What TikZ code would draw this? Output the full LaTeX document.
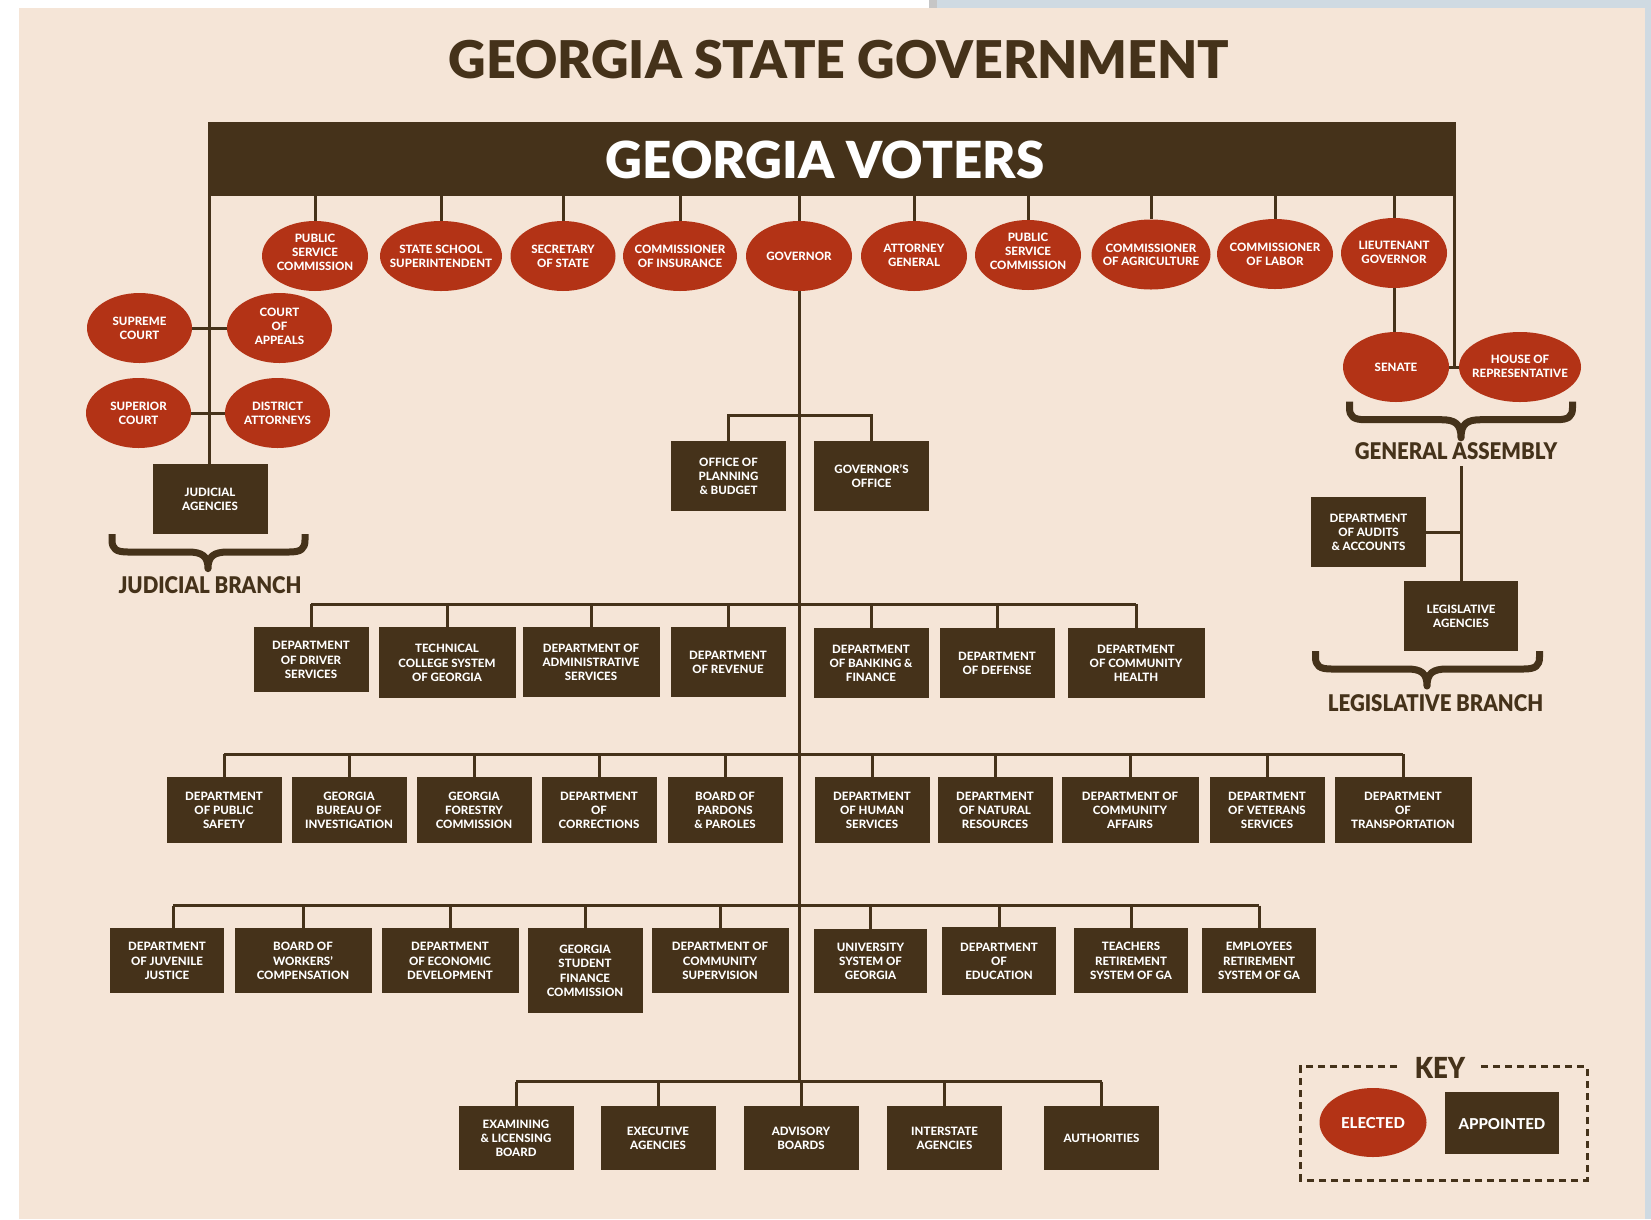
\documentclass[tikz,border=0pt]{standalone}
\usepackage{fontspec}
\setmainfont{Lato}
\usetikzlibrary{shapes.geometric}
\definecolor{gbg}{HTML}{F5E5D7}
\definecolor{gbrown}{HTML}{45321A}
\definecolor{gred}{HTML}{B33316}
\definecolor{gblue}{HTML}{CFDAE2}
\definecolor{ggray}{HTML}{C6C6C6}
\IfFontExistsTF{Lato Black}{%
  \newfontfamily\heavyfont{Lato Black}%
  \newfontfamily\headfont[FakeStretch=0.89]{Lato Black}}{%
  \newfontfamily\heavyfont[FakeBold=1.5]{Lato Bold}%
  \newfontfamily\headfont[FakeBold=1.2,FakeStretch=0.92]{Lato Bold}}
\IfFontExistsTF{Lato Heavy}{\newfontfamily\boxfam{Lato Heavy}}{\newfontfamily\boxfam[FakeBold=0.5]{Lato Bold}}
\newcommand{\boxfont}{\boxfam\fontsize{11.5}{14.2}\selectfont}
\newcommand{\elfont}{\boxfam\fontsize{11.5}{13.8}\selectfont}
\newcommand{\zw}[2][0pt]{\makebox[0pt]{\raisebox{\dimexpr-0.41em+#1\relax}[0pt][0pt]{\begin{tabular}{@{}c@{}}#2\end{tabular}}}}
\newcommand{\gbrace}[5]{%
\draw[bracesty] (#1,#3) -- (#1,#3+6) .. controls (#1,#3+15) and (#1+4,#3+18) .. (#1+16,#3+18)
 -- (#5-20,#3+18) .. controls (#5-6,#3+18) and (#5,#3+22) .. (#5,#4)
 .. controls (#5,#3+22) and (#5+6,#3+18) .. (#5+20,#3+18)
 -- (#2-16,#3+18) .. controls (#2-4,#3+18) and (#2,#3+15) .. (#2,#3+6) -- (#2,#3);}
\tikzset{
 conn/.style={draw=gbrown, line width=3pt},
 bracesty/.style={draw=gbrown, line width=7pt, line join=round},
 appt/.style 2 args={rectangle, fill=gbrown, text=white, font=\boxfont,
   minimum width=#1, minimum height=#2, inner sep=0pt},
 elec/.style 2 args={ellipse, fill=gred, text=white, font=\elfont,
   minimum width=#1, minimum height=#2, inner sep=0pt},
 heading/.style={text=gbrown, font=\headfont\fontsize{23}{26}\selectfont, anchor=base, inner sep=0pt},
}
\begin{document}
\begin{tikzpicture}[x=1pt,y=-1pt]
\useasboundingbox (0,0) rectangle (1651,1219);
% background
\fill[white] (0,0) rectangle (1651,1219);
\fill[gblue] (937,0) rectangle (1651,8);
\fill[ggray] (929,0) rectangle (937,8);
\fill[gblue] (1645,0) rectangle (1651,1219);
\fill[gbg] (19,8) rectangle (1645,1219);

% title
\node[text=gbrown, font=\heavyfont\fontsize{52}{60}\selectfont, anchor=base, inner sep=0pt] (title) at (839,78.7) {GEORGIA STATE GOVERNMENT};

% voters bar
\node[rectangle, fill=gbrown, minimum width=1248pt, minimum height=74pt, inner sep=0pt] (voters) at (832,159) {};
\node[text=white, font=\heavyfont\fontsize{51}{60}\selectfont, anchor=base, inner sep=0pt] (voterst) at (825,178.3) {GEORGIA VOTERS};

% elected top row
\node[elec={106pt}{70pt}] (psca) at (315,256) {\zw[4pt]{PUBLIC\\SERVICE\\COMMISSION}};
\node[elec={122pt}{70pt}] (sss) at (441,256) {\zw{STATE SCHOOL\\SUPERINTENDENT}};
\node[elec={105pt}{70pt}] (sos) at (563,256) {\zw{SECRETARY\\OF STATE}};
\node[elec={114pt}{70pt}] (coi) at (680,256) {\zw{COMMISSIONER\\OF INSURANCE}};
\node[elec={106pt}{70pt}] (gov) at (799,256) {\zw{GOVERNOR}};
\node[elec={106pt}{70pt}] (ag) at (914,256) {\zw[1pt]{ATTORNEY\\GENERAL}};
\node[elec={106pt}{70pt}] (pscb) at (1028,255) {\zw[4pt]{PUBLIC\\SERVICE\\COMMISSION}};
\node[elec={119pt}{70pt}] (coag) at (1151,254.5) {\zw{COMMISSIONER\\OF AGRICULTURE}};
\node[elec={116pt}{70pt}] (col) at (1275,254) {\zw{COMMISSIONER\\OF LABOR}};
\node[elec={106pt}{70pt}] (ltg) at (1394,253) {\zw[1pt]{LIEUTENANT\\GOVERNOR}};
\foreach \n in {psca,sss,sos,coi,gov,ag,pscb,coag,col,ltg}
  \draw[conn] (voters.south -| \n.north) -- (\n.north);

% judicial branch
\node[elec={105pt}{70pt}] (sup) at (139.5,328) {\zw{SUPREME\\COURT}};
\node[elec={105pt}{70pt}] (coa) at (279.5,328) {\zw[2pt]{COURT\\OF\\APPEALS}};
\node[elec={105pt}{70pt}] (supc) at (138.5,413) {\zw{SUPERIOR\\COURT}};
\node[elec={105pt}{70pt}] (da) at (277.5,413) {\zw{DISTRICT\\ATTORNEYS}};
\node[appt={115pt}{70pt}] (jag) at (210,499) {\zw{JUDICIAL\\AGENCIES}};
\draw[conn] ([xshift=1.5pt]voters.south west) -- ([xshift=1.5pt]voters.south west |- jag.north);
\draw[conn] (sup.east) -- (coa.west);
\draw[conn] (supc.east) -- (da.west);
\gbrace{112}{305}{534}{568.6}{208}
\node[heading] (jb) at (210,593.5) {JUDICIAL BRANCH};

% legislative branch
\node[elec={106pt}{70pt}] (sen) at (1396,367) {\zw{SENATE}};
\node[elec={122pt}{70pt}] (house) at (1520,367) {\zw[1pt]{HOUSE OF\\REPRESENTATIVE}};
\draw[conn] (ltg.south) -- (ltg.south |- sen.north);
\draw[conn] ([xshift=-1.5pt]voters.south east) -- ([xshift=-1.5pt]voters.south east |- sen.east);
\draw[conn] (sen.east) -- (house.west);
\gbrace{1349.5}{1572.5}{401.7}{437.8}{1461}
\node[heading] (ga) at (1456,459.5) {GENERAL ASSEMBLY};
\coordinate (gatop) at (1461,466);
\node[appt={115pt}{70pt}] (daa) at (1368.5,532) {\zw{DEPARTMENT\\OF AUDITS\\\& ACCOUNTS}};
\node[appt={114pt}{70pt}] (lag) at (1461,616) {\zw{LEGISLATIVE\\AGENCIES}};
\draw[conn] (gatop) -- (lag.north);
\draw[conn] (daa.east) -- (daa.east -| lag.north);
\gbrace{1315.5}{1539.5}{651}{686}{1427}
\node[heading] (lb) at (1435.5,711) {LEGISLATIVE BRANCH};

% governor's line and offices
\coordinate (r0) at (0,415);
\coordinate (r1) at (0,604);
\coordinate (r2) at (0,754);
\coordinate (r3) at (0,905.7);
\coordinate (r4) at (0,1081.5);
\draw[conn] (gov.south) -- (gov.south |- r4);
\node[appt={115pt}{70pt}] (opb) at (728.5,476) {\zw{OFFICE OF\\PLANNING\\\& BUDGET}};
\node[appt={115pt}{70pt}] (go) at (871.5,476) {\zw{GOVERNOR’S\\OFFICE}};
\draw[conn] (opb.north) -- (opb.north |- r0) -- (go.north |- r0) -- (go.north);

% row 1
\node[appt={115pt}{65pt}] (dds) at (311,659.5) {\zw{DEPARTMENT\\OF DRIVER\\SERVICES}};
\node[appt={137pt}{71pt}] (tcsg) at (447,662.5) {\zw{TECHNICAL\\COLLEGE SYSTEM\\OF GEORGIA}};
\node[appt={137pt}{70pt}] (das) at (591,662) {\zw{DEPARTMENT OF\\ADMINISTRATIVE\\SERVICES}};
\node[appt={115pt}{70pt}] (dor) at (728,662) {\zw{DEPARTMENT\\OF REVENUE}};
\node[appt={115pt}{70pt}] (dbf) at (871,663) {\zw{DEPARTMENT\\OF BANKING \&\\FINANCE}};
\node[appt={115pt}{70pt}] (dd) at (997,663) {\zw{DEPARTMENT\\OF DEFENSE}};
\node[appt={137pt}{70pt}] (dch) at (1136,663) {\zw{DEPARTMENT\\OF COMMUNITY\\HEALTH}};
\draw[conn] (dds.north |- r1) -- (dch.north |- r1);
\foreach \n in {dds,tcsg,das,dor,dbf,dd,dch}
  \draw[conn] (\n.north |- r1) -- (\n.north);

% row 2
\node[appt={115pt}{66pt}] (dps) at (224,810) {\zw{DEPARTMENT\\OF PUBLIC\\SAFETY}};
\node[appt={115pt}{66pt}] (gbi) at (349,810) {\zw{GEORGIA\\BUREAU OF\\INVESTIGATION}};
\node[appt={115pt}{66pt}] (gfc) at (474,810) {\zw{GEORGIA\\FORESTRY\\COMMISSION}};
\node[appt={115pt}{66pt}] (doc) at (599,810) {\zw{DEPARTMENT\\OF\\CORRECTIONS}};
\node[appt={115pt}{66pt}] (bpp) at (725,810) {\zw{BOARD OF\\PARDONS\\\& PAROLES}};
\node[appt={115pt}{66pt}] (dhs) at (872,810) {\zw{DEPARTMENT\\OF HUMAN\\SERVICES}};
\node[appt={115pt}{66pt}] (dnr) at (995,810) {\zw{DEPARTMENT\\OF NATURAL\\RESOURCES}};
\node[appt={137pt}{66pt}] (dca) at (1130,810) {\zw{DEPARTMENT OF\\COMMUNITY\\AFFAIRS}};
\node[appt={115pt}{66pt}] (dvs) at (1267,810) {\zw{DEPARTMENT\\OF VETERANS\\SERVICES}};
\node[appt={137pt}{66pt}] (dot) at (1403,810) {\zw{DEPARTMENT\\OF\\TRANSPORTATION}};
\draw[conn] (dps.north |- r2) -- (dot.north |- r2);
\foreach \n in {dps,gbi,gfc,doc,bpp,dhs,dnr,dca,dvs,dot}
  \draw[conn] (\n.north |- r2) -- (\n.north);

% row 3
\node[appt={114pt}{65pt}] (djj) at (167,960.5) {\zw{DEPARTMENT\\OF JUVENILE\\JUSTICE}};
\node[appt={137pt}{65pt}] (bwc) at (303,960.5) {\zw{BOARD OF\\WORKERS’\\COMPENSATION}};
\node[appt={137pt}{65pt}] (ded) at (450,960.5) {\zw{DEPARTMENT\\OF ECONOMIC\\DEVELOPMENT}};
\node[appt={115pt}{85pt}] (gsfc) at (585,970.5) {\zw{GEORGIA\\STUDENT\\FINANCE\\COMMISSION}};
\node[appt={137pt}{65pt}] (dcs) at (720,960.5) {\zw{DEPARTMENT OF\\COMMUNITY\\SUPERVISION}};
\node[appt={113pt}{64pt}] (usg) at (870.5,961) {\zw{UNIVERSITY\\SYSTEM OF\\GEORGIA}};
\node[appt={114pt}{68pt}] (doe) at (999,961) {\zw{DEPARTMENT\\OF\\EDUCATION}};
\node[appt={114pt}{65pt}] (trs) at (1131,960.5) {\zw{TEACHERS\\RETIREMENT\\SYSTEM OF GA}};
\node[appt={114pt}{65pt}] (ers) at (1259,960.5) {\zw{EMPLOYEES\\RETIREMENT\\SYSTEM OF GA}};
\draw[conn] ([xshift=6pt]djj.north |- r3) -- (ers.north |- r3);
\draw[conn] ([xshift=6pt]djj.north |- r3) -- ([xshift=6pt]djj.north);
\foreach \n in {bwc,ded,gsfc,dcs,usg,doe,trs,ers}
  \draw[conn] (\n.north |- r3) -- (\n.north);

% row 4
\node[appt={115pt}{64pt}] (elb) at (516,1138) {\zw{EXAMINING\\\& LICENSING\\BOARD}};
\node[appt={115pt}{64pt}] (ea) at (658,1138) {\zw{EXECUTIVE\\AGENCIES}};
\node[appt={115pt}{64pt}] (ab) at (801,1138) {\zw{ADVISORY\\BOARDS}};
\node[appt={115pt}{64pt}] (ia) at (944.5,1138) {\zw{INTERSTATE\\AGENCIES}};
\node[appt={115pt}{64pt}] (auth) at (1101.5,1138) {\zw{AUTHORITIES}};
\draw[conn] (elb.north |- r4) -- (auth.north |- r4);
\foreach \n in {elb,ea,ab,ia,auth}
  \draw[conn] (\n.north |- r4) -- (\n.north);

% key
\draw[gbrown, line width=3pt, dash pattern=on 7pt off 5pt]
  (1397,1066.7) -- (1300.7,1066.7) -- (1300.7,1180) -- (1587,1180) -- (1587,1066.7) -- (1480,1066.7);
\node[text=gbrown, font=\headfont\fontsize{29}{30}\selectfont, anchor=base, inner sep=0pt] (keyt) at (1440,1078) {KEY};
\node[elec={107pt}{69pt}, font=\boxfam\fontsize{15}{18}\selectfont] (kel) at (1373,1122.5) {\zw{ELECTED}};
\node[appt={114pt}{62pt}, font=\boxfam\fontsize{15}{18}\selectfont] (kap) at (1502,1123) {\zw{APPOINTED}};
\end{tikzpicture}
\end{document}
